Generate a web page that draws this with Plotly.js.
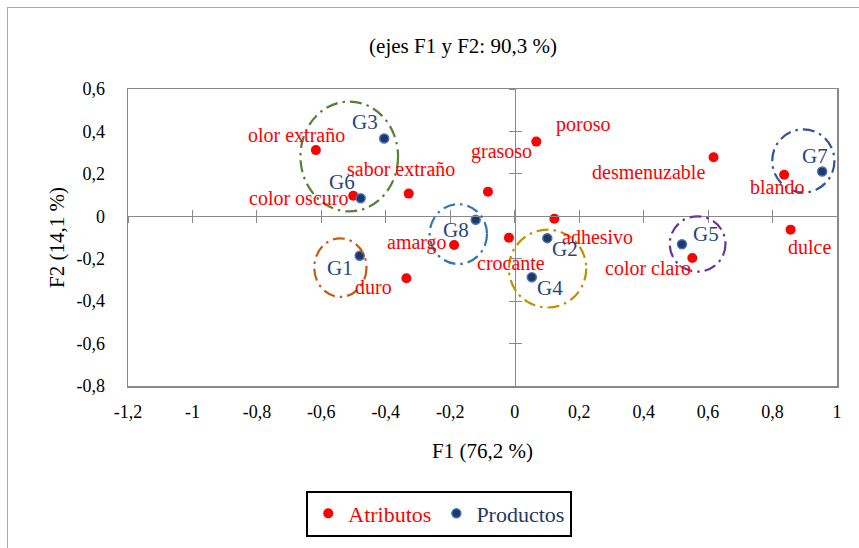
<!DOCTYPE html>
<html><head><meta charset="utf-8">
<script src="https://cdn.plot.ly/plotly-3.0.1.min.js"></script>
<style>
html,body{margin:0;padding:0;background:#fff;}
#chart{position:absolute;left:0;top:0;width:859px;height:548px;}
#frame{position:absolute;left:7px;top:7px;width:900px;height:600px;border:1.5px solid #a9a9a9;pointer-events:none;}
</style>
</head><body>
<div id="chart"></div><div id="frame"></div>
<script>
// ---- data ----
const attrNames = ['olor extraño','sabor extraño','color oscuro','grasoso','poroso','desmenuzable','blando','dulce','adhesivo','crocante','amargo','duro','color claro'];
const attrF1 = [-0.617,-0.329,-0.501,-0.083,0.067,0.617,0.836,0.856,0.123,-0.018,-0.188,-0.336,0.551];
const attrF2 = [0.312,0.107,0.097,0.116,0.352,0.278,0.196,-0.063,-0.012,-0.101,-0.135,-0.292,-0.197];
const prodNames = ['G1','G2','G3','G4','G5','G6','G7','G8'];
const prodF1 = [-0.481,0.101,-0.405,0.053,0.519,-0.478,0.954,-0.121];
const prodF2 = [-0.186,-0.103,0.367,-0.287,-0.132,0.085,0.211,-0.016];
const xTickVals = [-1.2,-1,-0.8,-0.6,-0.4,-0.2,0,0.2,0.4,0.6,0.8,1];
const xTickText = ['-1,2','-1','-0,8','-0,6','-0,4','-0,2','0','0,2','0,4','0,6','0,8','1'];
const yTickVals = [-0.8,-0.6,-0.4,-0.2,0,0.2,0.4,0.6];
const yTickText = ['-0,8','-0,6','-0,4','-0,2','0','0,2','0,4','0,6'];
// groups (ellipses around products): bounds in F1/F2 units
const groupBoxX0 = [-0.665,-0.622,-0.264,-0.018,0.481,0.799];
const groupBoxX1 = [-0.362,-0.460,-0.086,0.222,0.654,0.992];
const groupBoxY0 = [0.023,-0.380,-0.225,-0.430,-0.261,0.112];
const groupBoxY1 = [0.541,-0.104,0.057,-0.063,0.000,0.410];

// ---- styling (label offsets in px, colours) ----
const attrLabelDX = [-19,-8,-55,14,47,-65,-7,19,43,2,-37,-33,-44];
const attrLabelDY = [-15,-25,2,-40,-17,15,12,17,18,25,-2,9,10];
const prodLabelDX = [-20,18,-19,18,24,-19,-7,-20];
const prodLabelDY = [12,11,-16,11,-10,-16,-16,10];
const groupColors = ['#548235','#C55A11','#2E75B6','#BF9000','#7030A0','#2F5597'];

const FONT = 'Liberation Serif, Times New Roman, serif';
const RED = '#FF0000';
const BLUE_TXT = '#1F497D';
const AXC = '#898989';
const xRange = [-1.2, 1];
const yRange = [-0.8, 0.6];
const zeroFracY = (0 - yRange[0]) / (yRange[1] - yRange[0]);
const zeroFracX = (0 - xRange[0]) / (xRange[1] - xRange[0]);

const traces = [
  {type:'scatter', mode:'markers', x:attrF1, y:attrF2, text:attrNames,
   name:'<span style="color:#FF0000">Atributos</span>',
   marker:{color:RED, size:10}, hoverinfo:'text'},
  {type:'scatter', mode:'markers', x:prodF1, y:prodF2, text:prodNames,
   name:'<span style="color:#1F3864">Productos</span>',
   marker:{color:'#1F3864', size:9, line:{color:'#4472C4', width:1.5}}, hoverinfo:'text'},
  // helper traces so the zero-line tick axes get drawn
  {type:'scatter', x:[], y:[], xaxis:'x2', yaxis:'y', showlegend:false, hoverinfo:'skip'},
  {type:'scatter', x:[], y:[], xaxis:'x3', yaxis:'y', showlegend:false, hoverinfo:'skip'},
  {type:'scatter', x:[], y:[], xaxis:'x', yaxis:'y2', showlegend:false, hoverinfo:'skip'},
  {type:'scatter', x:[], y:[], xaxis:'x', yaxis:'y3', showlegend:false, hoverinfo:'skip'}
];

const annotations = [];
attrNames.forEach((n,i)=>annotations.push({x:attrF1[i], y:attrF2[i], xref:'x', yref:'y', text:n, showarrow:false,
  xshift:attrLabelDX[i], yshift:-attrLabelDY[i], xanchor:'center', yanchor:'middle',
  font:{family:FONT, size:20, color:RED}}));
prodNames.forEach((n,i)=>annotations.push({x:prodF1[i], y:prodF2[i], xref:'x', yref:'y', text:n, showarrow:false,
  xshift:prodLabelDX[i], yshift:-prodLabelDY[i], xanchor:'center', yanchor:'middle',
  font:{family:FONT, size:21, color:BLUE_TXT}}));

const shapes = groupColors.map((c,i)=>({type:'circle', xref:'x', yref:'y',
  x0:groupBoxX0[i], x1:groupBoxX1[i], y0:groupBoxY0[i], y1:groupBoxY1[i],
  line:{color:c, width:2.2, dash:'12px,5px,2.5px,5px'}, layer:'above'}));

const zeroAxisX = (ticks)=>({overlaying:'x', matches:'x', range:xRange, anchor:'free', position:zeroFracY,
  showline:true, linecolor:AXC, linewidth:1, ticks:ticks, ticklen:6, tickwidth:1, tickcolor:AXC,
  tickmode:'array', tickvals:xTickVals, showticklabels:false, showgrid:false, zeroline:false});
const zeroAxisY = (ticks)=>({overlaying:'y', matches:'y', range:yRange, anchor:'free', position:zeroFracX,
  showline:true, linecolor:AXC, linewidth:1, ticks:ticks, ticklen:6, tickwidth:1, tickcolor:AXC,
  tickmode:'array', tickvals:yTickVals, showticklabels:false, showgrid:false, zeroline:false});

const layout = {
  width:859, height:548,
  margin:{l:128, r:21.5, t:89, b:157},
  paper_bgcolor:'rgba(0,0,0,0)', plot_bgcolor:'rgba(0,0,0,0)',
  font:{family:FONT, color:'#000'},
  title:{text:'(ejes F1 y F2: 90,3 %)', xref:'container', yref:'container',
    x:463/859, y:1-46/548, xanchor:'center', yanchor:'middle',
    font:{family:FONT, size:21, color:'#000'}},
  xaxis:{range:xRange, tickmode:'array', tickvals:xTickVals, ticktext:xTickText,
    showline:true, mirror:true, linecolor:AXC, linewidth:1.5, ticks:'', showgrid:false, zeroline:false,
    ticklabelstandoff:9, tickfont:{family:FONT, size:18, color:'#000'},
    title:{text:'F1 (76,2 %)', standoff:22, font:{family:FONT, size:21, color:'#000'}}},
  yaxis:{range:yRange, tickmode:'array', tickvals:yTickVals, ticktext:yTickText,
    showline:true, mirror:true, linecolor:AXC, linewidth:1.5, ticks:'', showgrid:false, zeroline:false,
    ticklabelstandoff:18, tickfont:{family:FONT, size:18, color:'#000'},
    title:{text:'F2 (14,1 %)', standoff:6, font:{family:FONT, size:21, color:'#000'}}},
  xaxis2:zeroAxisX('outside'),
  xaxis3:zeroAxisX('inside'),
  yaxis2:zeroAxisY('outside'),
  yaxis3:zeroAxisY('inside'),
  showlegend:true,
  legend:{orientation:'h', x:0.439, xanchor:'center', y:-0.352, yanchor:'top',
    bordercolor:'#000', borderwidth:2, bgcolor:'#fff', itemwidth:30,
    font:{family:FONT, size:22}},
  annotations:annotations,
  shapes:shapes,
  hovermode:'closest'
};

Plotly.newPlot('chart', traces, layout, {displayModeBar:false, staticPlot:true});
</script>
</body></html>
